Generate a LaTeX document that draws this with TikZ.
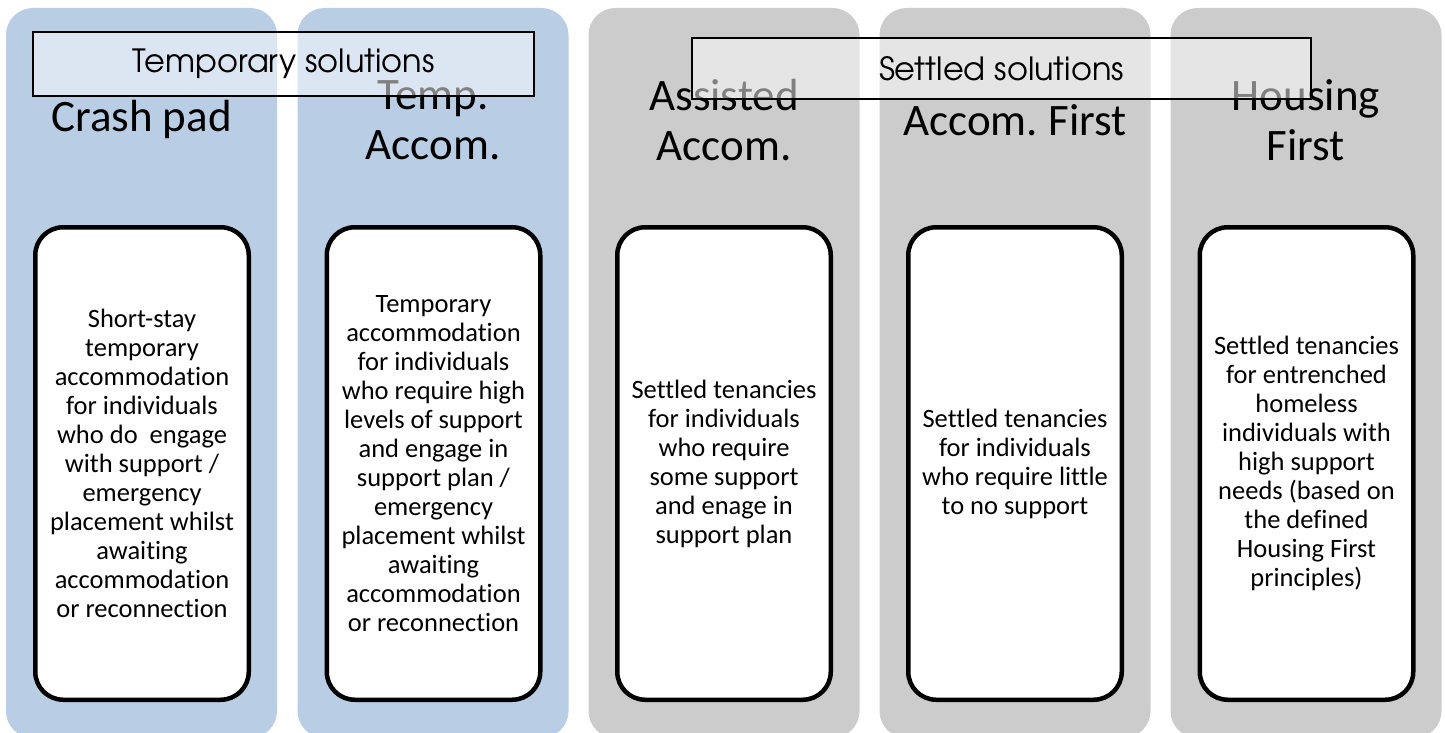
\documentclass[tikz,border=0pt]{standalone}
\usepackage{fontspec}
\setmainfont{Carlito}[Ligatures=NoCommon]
\newfontfamily\gothic{texgyreadventor-regular.otf}
\definecolor{colblue}{HTML}{B9CDE5}
\definecolor{colgray}{HTML}{CCCCCC}
\tikzset{
  colbox/.style={rectangle, rounded corners=27pt, minimum width=271pt, minimum height=730pt, inner sep=0pt, draw=none},
  innerbox/.style={rectangle, rounded corners=28pt, draw=black, line width=4.5pt, fill=white, minimum width=213.5pt, minimum height=472.5pt, inner sep=0pt, align=center, font=\fontsize{26.5}{29}\selectfont},
  titletext/.style={align=center, inner sep=0pt, font=\fontsize{45}{50}\selectfont},
  bandbox/.style={rectangle, draw=black, line width=1.5pt, fill=white, fill opacity=0.5, text opacity=1, draw opacity=1, inner sep=0pt, font=\gothic\fontsize{32}{38}\selectfont}
}
\begin{document}
\frenchspacing
\begin{tikzpicture}[x=1pt,y=-1pt]
\useasboundingbox (0,0) rectangle (1445,733);
% columns
\node[colbox, fill=colblue] (c1) at (141.5,373) {};
\node[colbox, fill=colblue] (c2) at (433,373) {};
\node[colbox, fill=colgray] (c3) at (724,373) {};
\node[colbox, fill=colgray] (c4) at (1015,373) {};
\node[colbox, fill=colgray] (c5) at (1306,373) {};
% inner boxes
\node[innerbox] (b1) at (142,463.5) {Short-stay\\temporary\\accommodation\\for individuals\\who do\ \ engage\\with support /\\emergency\\placement whilst\\awaiting\\accommodation\\or reconnection};
\node[innerbox] (b2) at (433.5,463.5) {Temporary\\accommodation\\for individuals\\who require high\\levels of support\\and engage in\\support plan /\\emergency\\placement whilst\\awaiting\\accommodation\\or reconnection};
\node[innerbox] (b3) at (724,463.5) {Settled tenancies\\for individuals\\who require\\some support\\and enage in\\support plan};
\node[innerbox] (b4) at (1015,463.5) {Settled tenancies\\for individuals\\who require little\\to no support};
\node[innerbox] (b5) at (1306.5,463.5) {Settled tenancies\\for entrenched\\homeless\\individuals with\\high support\\needs (based on\\the defined\\Housing First\\principles)};
% titles
\node[titletext] (t1) at (141.5,120) {Crash pad};
\node[titletext] (t2) at (433,120) {Temp.\\Accom.};
\node[titletext] (t3) at (724,120) {Assisted\\Accom.};
\node[titletext] (t4) at (1015,120) {Accom. First};
\node[titletext] (t5) at (1306,120) {Housing\\First};
% overlay bands
\node[bandbox, minimum width=501pt, minimum height=64pt] (temp) at (283.5,64) {Temporary solutions};
\node[bandbox, minimum width=619pt, minimum height=61pt] (settled) at (1001.5,68.5) {Settled solutions};
\end{tikzpicture}
\end{document}
